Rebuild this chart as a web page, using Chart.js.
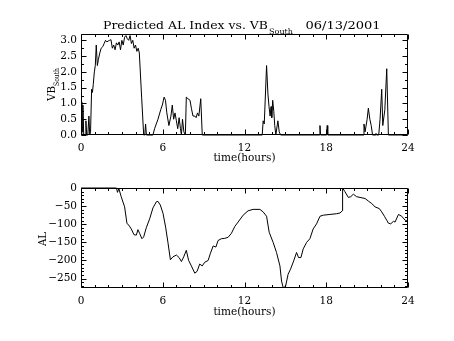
<!DOCTYPE html>
<html>
<head>
<meta charset="utf-8">
<title>Predicted AL Index vs. VB South</title>
<script src="https://cdn.jsdelivr.net/npm/chart.js@4.4.1/dist/chart.umd.min.js"></script>
<style>
  html, body { margin: 0; padding: 0; background: #fff; }
  #wrap { position: relative; width: 454px; height: 341px; overflow: hidden; }
  #wrap canvas { position: absolute; left: 0; }
</style>
</head>
<body>
<div id="wrap">
  <canvas id="vbChart" width="454" height="170" style="top:0px"></canvas>
  <canvas id="alChart" width="454" height="171" style="top:170px"></canvas>
</div>
<script>
// ---- data: solar wind VB(south) and predicted AL index, 06/13/2001 ----
const hourTicks = [0, 6, 12, 18, 24];
const vbTicks = [0, 0.5, 1, 1.5, 2, 2.5, 3];
const alTicks = [-250, -200, -150, -100, -50, 0];

const vbHours = [
  0.00, 0.06, 0.10, 0.14, 0.20, 0.30, 0.36, 0.42, 0.50, 0.58, 0.64, 0.70, 0.78, 0.84, 0.90,
  0.98, 1.05, 1.12, 1.20, 1.28, 1.38, 1.48, 1.60, 1.70, 1.80, 1.90, 2.00, 2.10, 2.20, 2.30,
  2.40, 2.50, 2.60, 2.70, 2.80, 2.90, 3.00, 3.10, 3.20, 3.30, 3.40, 3.50, 3.60, 3.70, 3.80,
  3.90, 4.00, 4.10, 4.20, 4.28, 4.45, 4.60, 4.68, 4.74, 4.80,
  5.28, 5.40, 5.65, 5.85, 5.97, 6.10, 6.20, 6.30, 6.45, 6.60, 6.70, 6.80, 6.90, 7.00, 7.10,
  7.20, 7.30, 7.37, 7.45, 7.55, 7.66, 7.73, 7.85, 8.00, 8.10, 8.22, 8.35, 8.45, 8.55, 8.65,
  8.79, 8.90,
  13.30, 13.37, 13.45, 13.62, 13.72, 13.80, 13.88, 13.95, 14.00, 14.07, 14.15, 14.22, 14.30,
  14.45, 14.55, 14.65,
  17.50, 17.54, 17.58, 18.03, 18.07, 18.11,
  20.70, 20.77, 20.85, 21.00, 21.09, 21.20, 21.30, 21.40, 21.60, 21.65, 21.70, 21.85, 21.95,
  22.07, 22.15, 22.30, 22.44, 22.56, 24.00
];
const vbValues = [
  0.00, 1.05, 0.10, 0.95, 0.00, 0.00, 0.45, 0.00, 0.00, 0.60, 0.00, 0.10, 1.45, 1.35, 1.60,
  2.00, 2.20, 2.85, 2.20, 2.40, 2.60, 2.75, 2.80, 2.90, 3.00, 2.95, 2.98, 3.00, 3.02, 2.75,
  2.85, 2.70, 2.92, 2.85, 2.95, 2.70, 3.00, 2.85, 3.10, 3.15, 3.05, 3.00, 3.15, 2.90, 3.00,
  2.75, 2.85, 2.65, 2.75, 2.60, 1.20, 0.00, 0.00, 0.35, 0.00,
  0.00, 0.20, 0.50, 0.80, 0.95, 1.20, 1.10, 0.70, 0.30, 0.60, 0.95, 0.50, 0.70, 0.45, 0.20,
  0.55, 0.20, 0.00, 0.50, 0.10, 0.00, 1.20, 1.15, 1.10, 0.85, 0.60, 0.60, 0.55, 0.70, 0.60,
  1.15, 0.00,
  0.00, 0.45, 0.35, 2.20, 1.30, 0.90, 0.60, 0.90, 0.55, 1.10, 0.75, 0.30, 0.00,
  0.45, 0.10, 0.00,
  0.00, 0.30, 0.00, 0.00, 0.30, 0.00,
  0.00, 0.35, 0.10, 0.50, 0.85, 0.50, 0.30, 0.00, 0.00, 0.05, 0.00, 0.00, 0.50,
  1.45, 0.30, 0.80, 2.10, 0.00, 0.00
];

const alHours = [
  0.00, 2.60, 2.68, 2.78, 2.95, 3.20, 3.37, 3.55, 3.69, 3.89, 4.06, 4.18, 4.30, 4.47, 4.60,
  4.79, 5.04, 5.28, 5.53, 5.65, 5.82, 6.02, 6.21, 6.38, 6.56, 6.75, 6.90, 7.00, 7.20, 7.37,
  7.54, 7.73, 7.90, 8.10, 8.35, 8.52, 8.71, 8.90, 9.08, 9.33, 9.50, 9.70, 9.90, 10.06, 10.30,
  10.55, 10.80, 11.04, 11.29, 11.53, 11.90, 12.26, 12.63, 13.13, 13.37, 13.62, 13.81, 14.10,
  14.35, 14.60, 14.72, 14.84, 15.01, 15.20, 15.38, 15.63, 15.82, 15.97, 16.14, 16.31, 16.56,
  16.80, 17.04, 17.29, 17.54, 17.78, 18.27, 18.76, 19.01, 19.18, 19.20, 19.37, 19.62, 19.80,
  19.99, 20.23, 20.48, 20.85, 21.09, 21.34, 21.58, 21.90, 22.07, 22.27, 22.44, 22.56, 22.73,
  22.93, 23.05, 23.30, 23.54, 23.79, 24.00
];
const alValues = [
  0, 0, -12, -2, -24, -52, -97, -105, -113, -129, -130, -115, -125, -140, -135,
  -110, -85, -55, -38, -37, -47, -70, -108, -150, -198, -190, -187, -185, -192, -203,
  -190, -172, -200, -215, -235, -230, -210, -215, -205, -200, -180, -160, -163, -145, -140,
  -139, -136, -125, -106, -94, -75, -63, -59, -59, -66, -78, -122, -150,
  -178, -215, -257, -275, -272, -238, -224, -199, -178, -192, -192, -168, -150,
  -140, -113, -99, -78, -75, -73, -71, -69, -63, 0, -10, -26, -24,
  -17, -24, -26, -29, -36, -43, -52, -57, -66, -78, -89, -97, -99,
  -92, -94, -73, -78, -89, -92
];

// ---- shared styling ----
const SERIF = '"DejaVu Serif", "Liberation Serif", serif';
const INK = '#000';
const tickFont = { family: SERIF, size: 10.5 };

Chart.defaults.animation = false;
Chart.defaults.color = INK;

function pairs(xs, ys) {
  return xs.map((x, i) => ({ x: x, y: ys[i] }));
}

// Minus sign drawn as a true minus for the AL labels
function fmtAL(v) {
  return v < 0 ? '\u2212' + Math.abs(v) : String(v);
}

// Text squeezed/stretched horizontally to a given width
function fitText(ctx, text, x, y, width) {
  const w = ctx.measureText(text).width;
  ctx.save();
  ctx.translate(x, y);
  ctx.scale(width / w, 1);
  ctx.fillText(text, 0, 0);
  ctx.restore();
}

// Box frame with inward major/minor ticks on all four sides
const frameTicks = {
  id: 'frameTicks',
  afterDraw(chart, args, opts) {
    const { ctx, chartArea: a, scales } = chart;
    const xs = scales.x, ys = scales.y;
    ctx.save();
    ctx.strokeStyle = INK;
    ctx.lineWidth = 1;
    const L = Math.round(a.left) + 0.5, R = Math.round(a.right) - 0.5;
    const T = Math.round(a.top) + 0.5, B = Math.round(a.bottom) - 0.5;
    ctx.beginPath();
    ctx.rect(L, T, R - L, B - T);
    ctx.stroke();
    ctx.beginPath();
    for (let v = xs.min; v <= xs.max + 1e-9; v += opts.xMinor) {
      const px = Math.round(xs.getPixelForValue(v)) + 0.5;
      const major = Math.abs(v / opts.xMajor - Math.round(v / opts.xMajor)) < 1e-6;
      const len = major ? opts.majorLen : opts.minorLen;
      ctx.moveTo(px, B); ctx.lineTo(px, B - len);
      ctx.moveTo(px, T); ctx.lineTo(px, T + len);
    }
    const y0 = Math.ceil(ys.min / opts.yMinor) * opts.yMinor;
    for (let v = y0; v <= ys.max + 1e-9; v += opts.yMinor) {
      const py = Math.round(ys.getPixelForValue(v)) + 0.5;
      const major = Math.abs(v / opts.yMajor - Math.round(v / opts.yMajor)) < 1e-6;
      const len = major ? opts.majorLen : opts.minorLen;
      ctx.moveTo(L, py); ctx.lineTo(L + len, py);
      ctx.moveTo(R, py); ctx.lineTo(R - len, py);
    }
    ctx.stroke();
    ctx.restore();
  }
};

// Title text with subscripts, drawn on the canvas
const captions = {
  id: 'captions',
  afterDraw(chart, args, opts) {
    const ctx = chart.ctx;
    ctx.save();
    ctx.fillStyle = INK;
    ctx.textBaseline = 'alphabetic';
    ctx.textAlign = 'left';
    (opts.items || []).forEach(it => {
      ctx.font = it.size + 'px ' + SERIF;
      if (it.rotate) {
        ctx.save();
        ctx.translate(it.x, it.y);
        ctx.rotate(-Math.PI / 2);
        fitText(ctx, it.text, 0, 0, it.width);
        ctx.restore();
      } else {
        fitText(ctx, it.text, it.x, it.y, it.width);
      }
    });
    ctx.restore();
  }
};

function lineDataset(points) {
  return {
    data: points,
    borderColor: INK,
    borderWidth: 1,
    pointRadius: 0,
    tension: 0,
    fill: false,
    clip: 1
  };
}

function hourAxis(height, titlePadBottom, labelPad) {
  return {
    type: 'linear',
    min: 0,
    max: 24,
    afterBuildTicks: s => { s.ticks = hourTicks.map(v => ({ value: v })); },
    ticks: { font: tickFont, color: INK, padding: labelPad, maxRotation: 0, autoSkip: false },
    grid: { display: false, drawTicks: false },
    border: { display: false },
    title: {
      display: true,
      text: 'time(hours)',
      font: { family: SERIF, size: 10.5 },
      color: INK,
      padding: { top: 0, bottom: titlePadBottom }
    },
    afterFit: s => { s.height = height; }
  };
}

// ---- upper panel: VB south ----
new Chart(document.getElementById('vbChart'), {
  type: 'line',
  data: { datasets: [lineDataset(pairs(vbHours, vbValues))] },
  options: {
    responsive: false,
    devicePixelRatio: 1,
    layout: { padding: { top: 34, right: 46, left: 0, bottom: 0 } },
    plugins: {
      legend: { display: false },
      tooltip: { enabled: false },
      frameTicks: { xMajor: 6, xMinor: 1, yMajor: 0.5, yMinor: 0.25, majorLen: 5, minorLen: 2.5 },
      captions: {
        items: [
          { text: 'Predicted AL Index vs. VB', x: 103, y: 29.3, width: 165, size: 11.5 },
          { text: 'South', x: 269, y: 34, width: 24, size: 7.5 },
          { text: '06/13/2001', x: 305.5, y: 29.3, width: 75, size: 11.5 },
          { text: 'VB', x: 55, y: 101, width: 15, size: 11.5, rotate: true },
          { text: 'South', x: 58.5, y: 86, width: 18, size: 7.5, rotate: true }
        ]
      }
    },
    scales: {
      x: hourAxis(35, 5.7, 7),
      y: {
        type: 'linear',
        min: 0,
        max: 3.2,
        afterBuildTicks: s => { s.ticks = vbTicks.map(v => ({ value: v })); },
        ticks: { font: tickFont, color: INK, padding: 4, callback: v => Number(v).toFixed(1) },
        grid: { display: false, drawTicks: false },
        border: { display: false },
        afterFit: s => { s.width = 81; }
      }
    }
  },
  plugins: [frameTicks, captions]
});

// ---- lower panel: predicted AL ----
new Chart(document.getElementById('alChart'), {
  type: 'line',
  data: { datasets: [lineDataset(pairs(alHours, alValues))] },
  options: {
    responsive: false,
    devicePixelRatio: 1,
    layout: { padding: { top: 18, right: 46, left: 0, bottom: 0 } },
    plugins: {
      legend: { display: false },
      tooltip: { enabled: false },
      frameTicks: { xMajor: 6, xMinor: 1, yMajor: 50, yMinor: 10, majorLen: 5, minorLen: 2.5 },
      captions: {
        items: [
          { text: 'AL', x: 46, y: 76, width: 14, size: 11.5, rotate: true }
        ]
      }
    },
    scales: {
      x: hourAxis(53, 22, 7),
      y: {
        type: 'linear',
        min: -276,
        max: 0,
        afterBuildTicks: s => { s.ticks = alTicks.map(v => ({ value: v })); },
        ticks: { font: tickFont, color: INK, padding: 4, callback: v => fmtAL(v) },
        grid: { display: false, drawTicks: false },
        border: { display: false },
        afterFit: s => { s.width = 81; }
      }
    }
  },
  plugins: [frameTicks, captions]
});
</script>
</body>
</html>
